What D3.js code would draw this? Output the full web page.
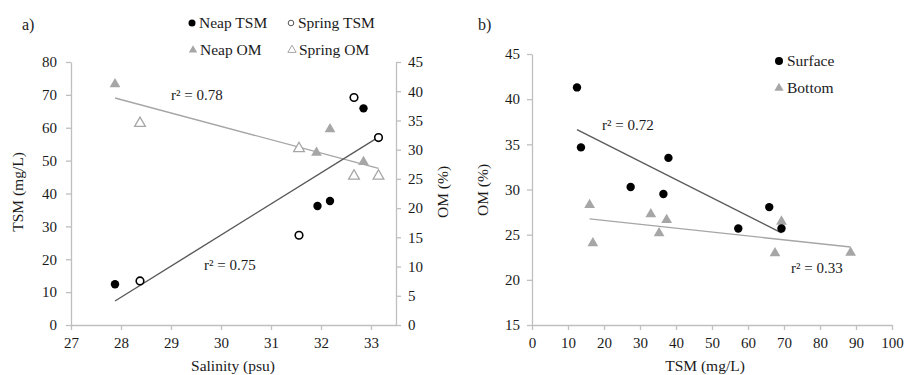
<!DOCTYPE html>
<html>
<head>
<meta charset="utf-8">
<script src="https://cdnjs.cloudflare.com/ajax/libs/d3/7.8.5/d3.min.js"></script>
<style>
  body { margin: 0; background: #fff; }
  svg text { font-family: "Liberation Serif", "Times New Roman", "DejaVu Serif", serif !important; fill: #1a1a1a; }
</style>
</head>
<body>
<div id="chart"></div>
<script>
// ---- data ----
// panel a) salinity vs TSM / OM
var neapSal = [27.88, 31.93, 32.18, 32.85];
var neapTSM = [12.4, 36.2, 37.7, 65.9];
var springSal = [28.38, 31.56, 32.66, 33.15];
var springTSM = [13.4, 27.3, 69.2, 57.0];
var neapOMSal = [27.88, 31.91, 32.18, 32.85];
var neapOM = [41.2, 29.5, 33.5, 27.9];
var springOM = [34.5, 30.2, 25.5, 25.5];

// panel b) TSM vs OM
var surfTSM = [12.5, 13.6, 27.4, 36.5, 37.9, 57.3, 65.9, 69.3];
var surfOM = [41.3, 34.66, 30.27, 29.5, 33.5, 25.68, 28.05, 25.68];
var botTSM = [16.0, 16.9, 33.0, 35.3, 37.4, 67.5, 69.3, 88.5];
var botOM = [28.3, 24.06, 27.27, 25.17, 26.64, 22.95, 26.45, 23.0];

var salTicks = [27, 28, 29, 30, 31, 32, 33];
var tsmTicksA = [0, 10, 20, 30, 40, 50, 60, 70, 80];
var omTicksA = [0, 5, 10, 15, 20, 25, 30, 35, 40, 45];
var tsmTicksB = [0, 10, 20, 30, 40, 50, 60, 70, 80, 90, 100];
var omTicksB = [15, 20, 25, 30, 35, 40, 45];

var r2Labels = ["r\u00b2 = 0.78", "r\u00b2 = 0.75", "r\u00b2 = 0.72", "r\u00b2 = 0.33"];

var axisColor = "#bfbfbf";
var darkLine = "#5a5a5a";
var lightLine = "#a6a6a6";
var grayMark = "#a6a6a6";
var fontFam = "'Liberation Serif', 'Times New Roman', serif";

var svg = d3.select("#chart").append("svg")
    .attr("width", 906)
    .attr("height", 375)
    .attr("font-family", fontFam);

// least squares fit
function fit(xs, ys) {
    var mx = d3.mean(xs), my = d3.mean(ys);
    var sxy = d3.sum(xs, function (x, i) { return (x - mx) * (ys[i] - my); });
    var sxx = d3.sum(xs, function (x) { return (x - mx) * (x - mx); });
    var b = sxy / sxx;
    var ext = d3.extent(xs);
    return ext.map(function (x) { return [x, my + b * (x - mx)]; });
}

function styleAxis(g) {
    g.attr("font-family", fontFam).attr("font-size", 15);
    g.select(".domain").attr("stroke", axisColor).attr("stroke-width", 1.3);
    g.selectAll(".tick line").attr("stroke", axisColor).attr("stroke-width", 1.3);
    g.selectAll(".tick text").attr("fill", "#1a1a1a");
}

var fmt = d3.format("d");
var tri = d3.symbol().type(d3.symbolTriangle);

// ================= panel a =================
var xA = d3.scaleLinear().domain([27, 33.5]).range([71, 396]);
var yA = d3.scaleLinear().domain([0, 80]).range([325, 62]);
var yA2 = d3.scaleLinear().domain([0, 45]).range([325, 62]);

svg.append("g")
    .attr("transform", "translate(0,325)")
    .call(d3.axisBottom(xA).tickValues(salTicks).tickFormat(fmt).tickSize(5).tickPadding(7).tickSizeOuter(0))
    .call(styleAxis);

svg.append("g")
    .attr("transform", "translate(71,0)")
    .call(d3.axisLeft(yA).tickValues(tsmTicksA).tickFormat(fmt).tickSize(5).tickPadding(9).tickSizeOuter(0))
    .call(styleAxis);

svg.append("g")
    .attr("transform", "translate(396,0)")
    .call(d3.axisRight(yA2).tickValues(omTicksA).tickFormat(fmt).tickSize(5).tickPadding(7).tickSizeOuter(0))
    .call(styleAxis);

// trend lines
var lineA = d3.line().x(function (d) { return xA(d[0]); }).y(function (d) { return yA(d[1]); });
var lineA2 = d3.line().x(function (d) { return xA(d[0]); }).y(function (d) { return yA2(d[1]); });

svg.append("path")
    .attr("d", lineA2(fit(neapOMSal.concat(springSal), neapOM.concat(springOM))))
    .attr("stroke", lightLine).attr("stroke-width", 1.4).attr("fill", "none");

svg.append("path")
    .attr("d", lineA(fit(neapSal.concat(springSal), neapTSM.concat(springTSM))))
    .attr("stroke", darkLine).attr("stroke-width", 1.4).attr("fill", "none");

// OM triangles
svg.selectAll(".neapom").data(neapOM).enter().append("path")
    .attr("d", tri.size(50))
    .attr("transform", function (d, i) { return "translate(" + xA(neapOMSal[i]) + "," + yA2(d) + ")"; })
    .attr("fill", grayMark);

svg.selectAll(".springom").data(springOM).enter().append("path")
    .attr("d", tri.size(50))
    .attr("transform", function (d, i) { return "translate(" + xA(springSal[i]) + "," + yA2(d) + ")"; })
    .attr("fill", "#fff").attr("stroke", grayMark).attr("stroke-width", 1.3);

// TSM circles
svg.selectAll(".neaptsm").data(neapTSM).enter().append("circle")
    .attr("cx", function (d, i) { return xA(neapSal[i]); })
    .attr("cy", function (d) { return yA(d); })
    .attr("r", 4.2)
    .attr("fill", "#000");

svg.selectAll(".springtsm").data(springTSM).enter().append("circle")
    .attr("cx", function (d, i) { return xA(springSal[i]); })
    .attr("cy", function (d) { return yA(d); })
    .attr("r", 3.8)
    .attr("fill", "#fff").attr("stroke", "#000").attr("stroke-width", 1.6);

// labels
svg.append("text").attr("x", 22).attr("y", 30).attr("font-size", 16).text("a)");
svg.append("text").attr("x", 233).attr("y", 371).attr("text-anchor", "middle")
    .attr("font-size", 15.5).text("Salinity (psu)");
svg.append("text").attr("transform", "translate(23,192) rotate(-90)").attr("text-anchor", "middle")
    .attr("font-size", 15.5).text("TSM (mg/L)");
svg.append("text").attr("transform", "translate(448,192) rotate(-90)").attr("text-anchor", "middle")
    .attr("font-size", 15.5).text("OM (%)");

svg.append("text").attr("x", 171).attr("y", 100).attr("font-size", 15).text(r2Labels[0]);
svg.append("text").attr("x", 204).attr("y", 270).attr("font-size", 15).text(r2Labels[1]);

// legend a
var legA = [
    {name: "Neap TSM", x: 192, y: 23, kind: "fc"},
    {name: "Spring TSM", x: 291, y: 23, kind: "oc"},
    {name: "Neap OM", x: 193, y: 50, kind: "ft"},
    {name: "Spring OM", x: 292, y: 50, kind: "ot"}
];
legA.forEach(function (d) {
    if (d.kind === "fc") {
        svg.append("circle").attr("cx", d.x).attr("cy", d.y).attr("r", 3.5).attr("fill", "#000");
    } else if (d.kind === "oc") {
        svg.append("circle").attr("cx", d.x).attr("cy", d.y).attr("r", 2.8)
            .attr("fill", "#fff").attr("stroke", "#555").attr("stroke-width", 1);
    } else if (d.kind === "ft") {
        svg.append("path").attr("d", tri.size(30)).attr("transform", "translate(" + d.x + "," + d.y + ")")
            .attr("fill", grayMark);
    } else {
        svg.append("path").attr("d", tri.size(30)).attr("transform", "translate(" + d.x + "," + d.y + ")")
            .attr("fill", "#fff").attr("stroke", grayMark).attr("stroke-width", 1);
    }
    svg.append("text").attr("x", d.x + 7).attr("y", d.y + 5).attr("font-size", 15.5).text(d.name);
});

// ================= panel b =================
var xB = d3.scaleLinear().domain([0, 100]).range([532, 892]);
var yB = d3.scaleLinear().domain([15, 45]).range([325, 54]);

svg.append("g")
    .attr("transform", "translate(0,325)")
    .call(d3.axisBottom(xB).tickValues(tsmTicksB).tickFormat(fmt).tickSize(5).tickPadding(7).tickSizeOuter(0))
    .call(styleAxis);

svg.append("g")
    .attr("transform", "translate(532,0)")
    .call(d3.axisLeft(yB).tickValues(omTicksB).tickFormat(fmt).tickSize(5).tickPadding(7).tickSizeOuter(0))
    .call(styleAxis);

var lineB = d3.line().x(function (d) { return xB(d[0]); }).y(function (d) { return yB(d[1]); });

svg.append("path")
    .attr("d", lineB(fit(botTSM, botOM)))
    .attr("stroke", lightLine).attr("stroke-width", 1.4).attr("fill", "none");

svg.append("path")
    .attr("d", lineB(fit(surfTSM, surfOM)))
    .attr("stroke", darkLine).attr("stroke-width", 1.4).attr("fill", "none");

svg.selectAll(".bot").data(botOM).enter().append("path")
    .attr("d", tri.size(50))
    .attr("transform", function (d, i) { return "translate(" + xB(botTSM[i]) + "," + yB(d) + ")"; })
    .attr("fill", grayMark);

svg.selectAll(".surf").data(surfOM).enter().append("circle")
    .attr("cx", function (d, i) { return xB(surfTSM[i]); })
    .attr("cy", function (d) { return yB(d); })
    .attr("r", 4.2)
    .attr("fill", "#000");

svg.append("text").attr("x", 478).attr("y", 30).attr("font-size", 16).text("b)");
svg.append("text").attr("x", 705).attr("y", 371).attr("text-anchor", "middle")
    .attr("font-size", 15.5).text("TSM (mg/L)");
svg.append("text").attr("transform", "translate(488,190) rotate(-90)").attr("text-anchor", "middle")
    .attr("font-size", 15.5).text("OM (%)");

svg.append("text").attr("x", 602).attr("y", 130).attr("font-size", 15).text(r2Labels[2]);
svg.append("text").attr("x", 791).attr("y", 273).attr("font-size", 15).text(r2Labels[3]);

svg.append("circle").attr("cx", 779).attr("cy", 61).attr("r", 4).attr("fill", "#000");
svg.append("text").attr("x", 787).attr("y", 66).attr("font-size", 15.5).text("Surface");
svg.append("path").attr("d", tri.size(36)).attr("transform", "translate(779,88)").attr("fill", grayMark);
svg.append("text").attr("x", 787).attr("y", 93).attr("font-size", 15.5).text("Bottom");
</script>
</body>
</html>
